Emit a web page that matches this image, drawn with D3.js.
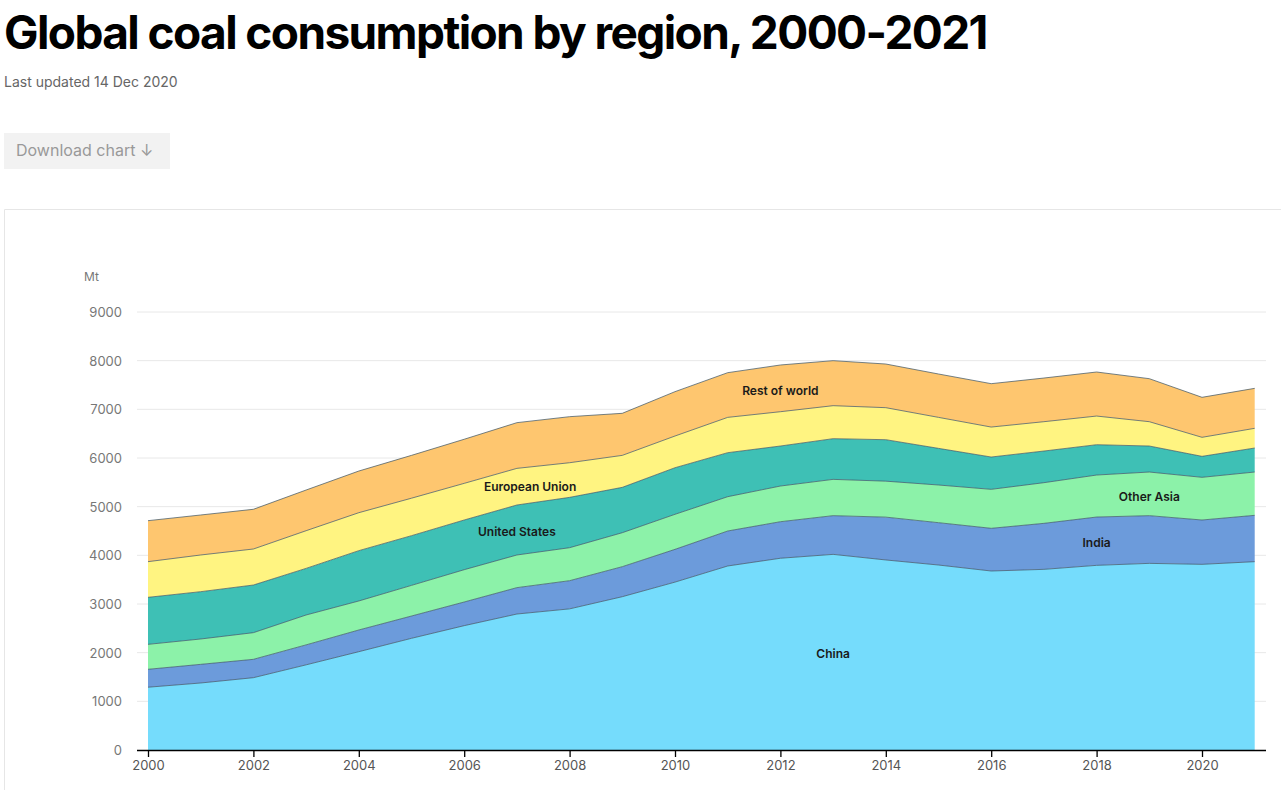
<!DOCTYPE html>
<html>
<head>
<meta charset="utf-8">
<script src="https://cdn.jsdelivr.net/npm/d3@7"></script>
<style>
  body { margin: 0; background: #fff; font-family: Inter, "Noto Sans", sans-serif; }
</style>
</head>
<body>
<script>
// chart values (Mt)
var years = [2000,2001,2002,2003,2004,2005,2006,2007,2008,2009,2010,2011,2012,2013,2014,2015,2016,2017,2018,2019,2020,2021];
var china = [1290,1377,1486,1750,2020,2295,2555,2794,2900,3150,3450,3781,3940,4020,3905,3801,3678,3712,3794,3835,3815,3870];
var india = [368,383,377,410,446,458,486,542,579,617,673,719,751,795,880,870,877,945,993,980,911,952];
var otherAsia = [513,521,548,614,596,630,664,671,678,698,720,705,733,746,739,774,801,836,863,897,877,890];
var unitedStates = [966,972,979,958,1034,1021,1021,1027,1034,932,957,904,822,836,852,753,664,650,623,534,431,493];
var europeanUnion = [733,754,740,774,780,770,753,753,712,657,652,726,705,678,658,637,616,603,589,500,391,405];
var restOfWorld = [842,822,816,836,856,880,906,939,946,864,911,918,960,925,897,891,891,897,905,884,822,821];

var seriesNames = ["China","India","Other Asia","United States","European Union","Rest of world"];
var seriesValues = [china, india, otherAsia, unitedStates, europeanUnion, restOfWorld];
var colors = ["#75dcfc","#6c9bdb","#8cf2a9","#3ec0b5","#fff481","#fec66f"];
var yTicks = [0,1000,2000,3000,4000,5000,6000,7000,8000,9000];
var xTicks = [2000,2002,2004,2006,2008,2010,2012,2014,2016,2018,2020];

// label spots: [year, value] at the centre of each label
var labelSpots = [[2013.0,1970],[2018.0,4250],[2019.0,5200],[2007.0,4480],[2007.25,5400],[2012.0,7380]];

var W = 1281, H = 790;
var svg = d3.select("body").append("svg")
    .attr("width", W)
    .attr("height", H);

// header
svg.append("text")
    .attr("x", 4).attr("y", 49)
    .attr("font-size", 46).attr("font-weight", 700)
    .attr("letter-spacing", -1.6)
    .attr("fill", "#000")
    .text("Global coal consumption by region, 2000-2021");

svg.append("text")
    .attr("x", 4).attr("y", 87)
    .attr("font-size", 14).attr("fill", "#666")
    .text("Last updated 14 Dec 2020");

svg.append("rect")
    .attr("x", 4).attr("y", 133).attr("width", 166).attr("height", 36)
    .attr("fill", "#f2f2f2");
svg.append("text")
    .attr("x", 16).attr("y", 156)
    .attr("font-size", 16).attr("fill", "#999")
    .text("Download chart \u2193");

// frame of chart panel
svg.append("path")
    .attr("d", "M4.5," + H + "V209.5H" + W)
    .attr("fill", "none")
    .attr("stroke", "#e6e6e6");

var x = d3.scaleLinear().domain([2000, 2020]).range([148, 1202]);
var y = d3.scaleLinear().domain([0, 9000]).range([750, 312]);

// gridlines
svg.append("g").selectAll("line")
    .data(yTicks.filter(function(d){ return d > 0; }))
    .enter().append("line")
    .attr("x1", 137).attr("x2", 1266)
    .attr("y1", function(d){ return y(d); })
    .attr("y2", function(d){ return y(d); })
    .attr("stroke", "#e8e8e8");

svg.append("g").selectAll("text")
    .data(yTicks)
    .enter().append("text")
    .attr("x", 122)
    .attr("y", function(d){ return y(d) + 5; })
    .attr("text-anchor", "end")
    .attr("font-size", 13).attr("fill", "#777")
    .text(function(d){ return d; });

svg.append("text")
    .attr("x", 84).attr("y", 281)
    .attr("font-size", 12).attr("fill", "#777")
    .text("Mt");

// stacked areas
var table = years.map(function(yr, i){
    var row = {year: yr};
    seriesNames.forEach(function(n, j){ row[n] = seriesValues[j][i]; });
    return row;
});
var stacked = d3.stack().keys(seriesNames)(table);

var area = d3.area()
    .x(function(d){ return x(d.data.year); })
    .y0(function(d){ return y(d[0]); })
    .y1(function(d){ return y(d[1]); });

var line = d3.line()
    .x(function(d){ return x(d.data.year); })
    .y(function(d){ return y(d[1]); });

svg.append("g").selectAll("path")
    .data(stacked)
    .enter().append("path")
    .attr("d", area)
    .attr("fill", function(d, i){ return colors[i]; });

svg.append("g").selectAll("path")
    .data(stacked)
    .enter().append("path")
    .attr("d", line)
    .attr("fill", "none")
    .attr("stroke", "#3d5566")
    .attr("stroke-opacity", 0.8)
    .attr("stroke-width", 0.9);

// x axis
var xAxis = d3.axisBottom(x)
    .tickValues(xTicks)
    .tickFormat(d3.format("d"))
    .tickSize(7)
    .tickSizeOuter(0);

var gx = svg.append("g")
    .attr("transform", "translate(0,750)")
    .call(xAxis);
gx.select(".domain").attr("d", "M137,0.5H1266").attr("stroke", "#000").attr("stroke-width", 1.5);
gx.selectAll(".tick line").attr("stroke", "#000").attr("stroke-width", 1.3);
gx.selectAll(".tick text")
    .attr("font-size", 13).attr("fill", "#555")
    .attr("font-family", "Inter, sans-serif")
    .attr("dy", "0.8em");

// band labels
svg.append("g").selectAll("text")
    .data(seriesNames)
    .enter().append("text")
    .attr("x", function(d, i){ return x(labelSpots[i][0]); })
    .attr("y", function(d, i){ return y(labelSpots[i][1]); })
    .attr("dy", "0.35em")
    .attr("text-anchor", "middle")
    .attr("font-size", 12).attr("font-weight", 600)
    .attr("fill", "#1a1a1a")
    .text(function(d){ return d; });
</script>
</body>
</html>
